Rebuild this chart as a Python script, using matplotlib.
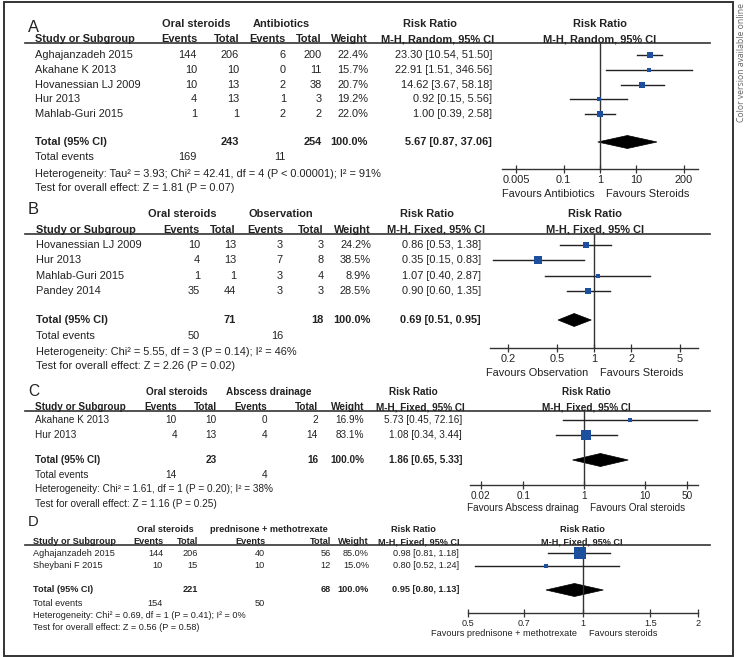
import matplotlib
matplotlib.use("Agg")
import matplotlib.pyplot as plt
from matplotlib.patches import Polygon, Rectangle
from matplotlib.ticker import NullLocator

plt.rcParams['font.family'] = ['Liberation Sans', 'DejaVu Sans']

# ---- Panel A: oral steroids vs antibiotics ----
studies_a = ["Aghajanzadeh 2015", "Akahane K 2013", "Hovanessian LJ 2009", "Hur 2013", "Mahlab-Guri 2015"]
ster_ev_a = [144, 10, 10, 4, 1]
ster_n_a = [206, 10, 13, 13, 1]
ctrl_ev_a = [6, 0, 2, 1, 2]
ctrl_n_a = [200, 11, 38, 3, 2]
weight_a = [22.4, 15.7, 20.7, 19.2, 22.0]
rr_a = [23.30, 22.91, 14.62, 0.92, 1.00]
lo_a = [10.54, 1.51, 3.67, 0.15, 0.39]
hi_a = [51.50, 346.56, 58.18, 5.56, 2.58]
total_a = [5.67, 0.87, 37.06]
total_n_a = [243, 254]
total_ev_a = [169, 11]
het_a = "Heterogeneity: Tau\u00b2 = 3.93; Chi\u00b2 = 42.41, df = 4 (P < 0.00001); I\u00b2 = 91%"
test_a = "Test for overall effect: Z = 1.81 (P = 0.07)"
ticks_a = [0.005, 0.1, 1, 10, 200]
ticklab_a = ["0.005", "0.1", "1", "10", "200"]
fav_a = ["Favours Antibiotics", "Favours Steroids"]

# ---- Panel B: oral steroids vs observation ----
studies_b = ["Hovanessian LJ 2009", "Hur 2013", "Mahlab-Guri 2015", "Pandey 2014"]
ster_ev_b = [10, 4, 1, 35]
ster_n_b = [13, 13, 1, 44]
ctrl_ev_b = [3, 7, 3, 3]
ctrl_n_b = [3, 8, 4, 3]
weight_b = [24.2, 38.5, 8.9, 28.5]
rr_b = [0.86, 0.35, 1.07, 0.90]
lo_b = [0.53, 0.15, 0.40, 0.60]
hi_b = [1.38, 0.83, 2.87, 1.35]
total_b = [0.69, 0.51, 0.95]
total_n_b = [71, 18]
total_ev_b = [50, 16]
het_b = "Heterogeneity: Chi\u00b2 = 5.55, df = 3 (P = 0.14); I\u00b2 = 46%"
test_b = "Test for overall effect: Z = 2.26 (P = 0.02)"
ticks_b = [0.2, 0.5, 1, 2, 5]
ticklab_b = ["0.2", "0.5", "1", "2", "5"]
fav_b = ["Favours Observation", "Favours Steroids"]

# ---- Panel C: oral steroids vs abscess drainage ----
studies_c = ["Akahane K 2013", "Hur 2013"]
ster_ev_c = [10, 4]
ster_n_c = [10, 13]
ctrl_ev_c = [0, 4]
ctrl_n_c = [2, 14]
weight_c = [16.9, 83.1]
rr_c = [5.73, 1.08]
lo_c = [0.45, 0.34]
hi_c = [72.16, 3.44]
total_c = [1.86, 0.65, 5.33]
total_n_c = [23, 16]
total_ev_c = [14, 4]
het_c = "Heterogeneity: Chi\u00b2 = 1.61, df = 1 (P = 0.20); I\u00b2 = 38%"
test_c = "Test for overall effect: Z = 1.16 (P = 0.25)"
ticks_c = [0.02, 0.1, 1, 10, 50]
ticklab_c = ["0.02", "0.1", "1", "10", "50"]
fav_c = ["Favours Abscess drainag", "Favours Oral steroids"]

# ---- Panel D: oral steroids vs prednisone + methotrexate ----
studies_d = ["Aghajanzadeh 2015", "Sheybani F 2015"]
ster_ev_d = [144, 10]
ster_n_d = [206, 15]
ctrl_ev_d = [40, 10]
ctrl_n_d = [56, 12]
weight_d = [85.0, 15.0]
rr_d = [0.98, 0.80]
lo_d = [0.81, 0.52]
hi_d = [1.18, 1.24]
total_d = [0.95, 0.80, 1.13]
total_n_d = [221, 68]
total_ev_d = [154, 50]
het_d = "Heterogeneity: Chi\u00b2 = 0.69, df = 1 (P = 0.41); I\u00b2 = 0%"
test_d = "Test for overall effect: Z = 0.56 (P = 0.58)"
ticks_d = [0.5, 0.7, 1, 1.5, 2]
ticklab_d = ["0.5", "0.7", "1", "1.5", "2"]
fav_d = ["Favours prednisone + methotrexate", "Favours steroids"]

W, H = 746, 657
BLUE = '#1d4f9f'
INK = '#222222'

fig = plt.figure(figsize=(W / 100, H / 100), dpi=100)
bg = fig.add_axes([0, 0, 1, 1])
bg.set_xlim(0, W)
bg.set_ylim(H, 0)
bg.axis('off')


def fmt_ci(v):
    return f"{v[0]:.2f} [{v[1]:.2f}, {v[2]:.2f}]"


def panel(letter, lay, groups, method, studies, ev1, n1, ev2, n2, wts, rr, lo, hi,
          tot, tot_n, tot_ev, het, test, ticks, ticklab, fav):
    fs = lay['fs']
    cols = lay['cols']
    t = dict(fontsize=fs, va='center', color=INK)
    tb = dict(t, fontweight='bold')

    bg.text(28, lay['letter_y'], letter, fontsize=fs + 4, va='center', color=INK)
    bg.text(lay['grp'][0], lay['h1'], groups[0], ha='center', **tb)
    bg.text(lay['grp'][1], lay['h1'], groups[1], ha='center', **tb)
    bg.text(lay['rr_head'], lay['h1'], "Risk Ratio", ha='center', **tb)
    bg.text(lay['plot_head'], lay['h1'], "Risk Ratio", ha='center', **tb)

    bg.text(lay['study_x'], lay['h2'], "Study or Subgroup", ha='left', **tb)
    for x, s in zip(cols, ["Events", "Total", "Events", "Total", "Weight"]):
        bg.text(x, lay['h2'], s, ha='right', **tb)
    bg.text(lay['mh_head'], lay['h2'], method, ha='center', **tb)
    bg.text(lay['plot_head'], lay['h2'], method, ha='center', **tb)
    bg.plot([25, 710], [lay['line'], lay['line']], color='#333333', lw=1.2)

    for i, name in enumerate(studies):
        y = lay['row0'] + lay['dy'] * i
        bg.text(lay['study_x'], y, name, ha='left', **t)
        vals = [ev1[i], n1[i], ev2[i], n2[i], f"{wts[i]:.1f}%"]
        for x, v in zip(cols, vals):
            bg.text(x, y, str(v), ha='right', **t)
        bg.text(lay['rr_x'], y, fmt_ci([rr[i], lo[i], hi[i]]), ha='right', **t)

    ty = lay['total_y']
    bg.text(lay['study_x'], ty, "Total (95% CI)", ha='left', **tb)
    bg.text(cols[1], ty, str(tot_n[0]), ha='right', **tb)
    bg.text(cols[3], ty, str(tot_n[1]), ha='right', **tb)
    bg.text(cols[4], ty, "100.0%", ha='right', **tb)
    bg.text(lay['rr_x'], ty, fmt_ci(tot), ha='right', **tb)
    bg.text(lay['study_x'], lay['events_y'], "Total events", ha='left', **t)
    bg.text(cols[0], lay['events_y'], str(tot_ev[0]), ha='right', **t)
    bg.text(cols[2], lay['events_y'], str(tot_ev[1]), ha='right', **t)
    bg.text(lay['study_x'], lay['het_y'], het, ha='left', **t)
    bg.text(lay['study_x'], lay['test_y'], test, ha='left', **t)

    # forest plot, y in figure pixels
    x0, x1 = lay['plot_x']
    ax = fig.add_axes([x0 / W, 1 - lay['axis_y'] / H, (x1 - x0) / W,
                       (lay['axis_y'] - lay['line']) / H])
    ax.set_xscale('log')
    ax.set_xlim(lay['xlim'])
    ax.set_ylim(lay['axis_y'], lay['line'])
    ax.patch.set_visible(False)
    for s in ['top', 'left', 'right']:
        ax.spines[s].set_visible(False)
    ax.spines['bottom'].set_color('#333333')
    ax.spines['bottom'].set_linewidth(1.0)
    ax.set_yticks([])
    ax.set_xticks(ticks)
    ax.set_xticklabels(ticklab)
    ax.xaxis.set_minor_locator(NullLocator())
    ax.tick_params(axis='x', direction='inout', length=6, width=0.9,
                   color='#333333', pad=1.5, labelsize=fs, labelcolor=INK)
    ax.axvline(1, color='#333333', lw=1.0)

    for i in range(len(studies)):
        y = lay['row0'] + lay['dy'] * i
        ax.plot([lo[i], hi[i]], [y, y], color=INK, lw=1.0, clip_on=False)
        side = 1.25 * wts[i] ** 0.5 - 0.5
        ax.plot(rr[i], y, marker='s', ms=side * 0.72, mew=0, color=BLUE, clip_on=False)

    h = 6.5
    ax.add_patch(Polygon([(tot[1], ty), (tot[0], ty - h), (tot[2], ty), (tot[0], ty + h)],
                         closed=True, fc='black', ec='black', lw=0.5, clip_on=False))

    ax.annotate(fav[0], xy=(1, lay['fav_y']), xycoords='data', xytext=(-4, 0),
                textcoords='offset points', ha='right', va='center', fontsize=fs,
                color=INK, annotation_clip=False)
    ax.annotate(fav[1], xy=(1, lay['fav_y']), xycoords='data', xytext=(4, 0),
                textcoords='offset points', ha='left', va='center', fontsize=fs,
                color=INK, annotation_clip=False)


lay_a = dict(fs=7.9, letter_y=27, h1=24, h2=39, line=43, row0=55, dy=14.75,
             total_y=142, events_y=157, het_y=174, test_y=188, axis_y=169, fav_y=194,
             study_x=35, cols=[197, 239, 286, 322, 368], grp=[196, 281],
             rr_x=492, rr_head=430, mh_head=438, plot_head=600,
             plot_x=(502, 698), xlim=(0.002, 500))
lay_b = dict(fs=7.9, letter_y=210, h1=214, h2=230, line=234, row0=245, dy=15.3,
             total_y=320, events_y=336, het_y=352, test_y=366, axis_y=348, fav_y=373,
             study_x=36, cols=[200, 236, 283, 324, 371], grp=[182, 281],
             rr_x=481, rr_head=427, mh_head=436, plot_head=595,
             plot_x=(490, 698), xlim=(1 / 7, 7))
lay_c = dict(fs=7.2, letter_y=391, h1=392, h2=407, line=411, row0=420, dy=15,
             total_y=460, events_y=475, het_y=489, test_y=504, axis_y=485, fav_y=508,
             study_x=35, cols=[177, 217, 267, 318, 364], grp=[177, 269],
             rr_x=462, rr_head=413, mh_head=420, plot_head=586,
             plot_x=(470, 698), xlim=(1 / 75, 75))
lay_d = dict(fs=6.6, letter_y=522, h1=529, h2=542, line=545, row0=553, dy=13,
             total_y=590, events_y=603, het_y=615, test_y=628, axis_y=613, fav_y=633,
             study_x=33, cols=[163, 198, 265, 331, 369], grp=[165, 269],
             rr_x=459, rr_head=413, mh_head=419, plot_head=582,
             plot_x=(468, 698), xlim=(0.5, 2))

panel("A", lay_a, ["Oral steroids", "Antibiotics"], "M-H, Random, 95% CI",
      studies_a, ster_ev_a, ster_n_a, ctrl_ev_a, ctrl_n_a, weight_a, rr_a, lo_a, hi_a,
      total_a, total_n_a, total_ev_a, het_a, test_a, ticks_a, ticklab_a, fav_a)
panel("B", lay_b, ["Oral steroids", "Observation"], "M-H, Fixed, 95% CI",
      studies_b, ster_ev_b, ster_n_b, ctrl_ev_b, ctrl_n_b, weight_b, rr_b, lo_b, hi_b,
      total_b, total_n_b, total_ev_b, het_b, test_b, ticks_b, ticklab_b, fav_b)
panel("C", lay_c, ["Oral steroids", "Abscess drainage"], "M-H, Fixed, 95% CI",
      studies_c, ster_ev_c, ster_n_c, ctrl_ev_c, ctrl_n_c, weight_c, rr_c, lo_c, hi_c,
      total_c, total_n_c, total_ev_c, het_c, test_c, ticks_c, ticklab_c, fav_c)
panel("D", lay_d, ["Oral steroids", "prednisone + methotrexate"], "M-H, Fixed, 95% CI",
      studies_d, ster_ev_d, ster_n_d, ctrl_ev_d, ctrl_n_d, weight_d, rr_d, lo_d, hi_d,
      total_d, total_n_d, total_ev_d, het_d, test_d, ticks_d, ticklab_d, fav_d)

bg.add_patch(Rectangle((4, 2), 729, 654, fill=False, lw=1.4, ec='#333333'))
bg.text(741, 62, "Color version available online", rotation=90, fontsize=6.2,
        color='#666666', ha='center', va='center', family=['Open Sans', 'DejaVu Sans'])

fig.savefig("out.png", dpi=100)
